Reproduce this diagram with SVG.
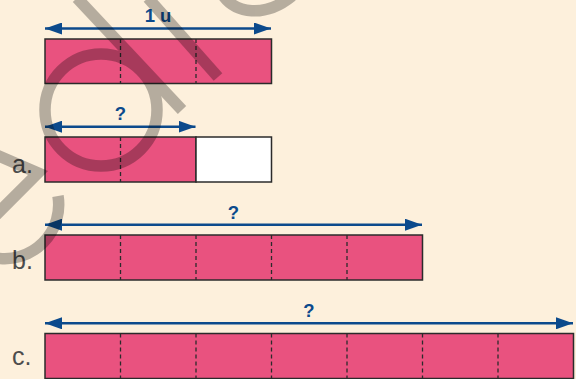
<svg xmlns="http://www.w3.org/2000/svg" width="576" height="379" viewBox="0 0 576 379">
<defs>
<marker id="ah" viewBox="0 0 17 12" refX="17" refY="6" markerWidth="17" markerHeight="12" markerUnits="userSpaceOnUse" orient="auto-start-reverse">
<path d="M0,0 L17,6 L0,12 z" fill="#0c4a8c"/>
</marker>
<style>
.bar{fill:#e9527f;stroke:#2b2b2b;stroke-width:1.5}
.white{fill:#ffffff;stroke:#2b2b2b;stroke-width:1.5}
.div{stroke:#2b2b2b;stroke-width:1.3;stroke-dasharray:4 3;fill:none}
.arr{stroke:#0c4a8c;stroke-width:2.4;fill:none;marker-start:url(#ah);marker-end:url(#ah)}
.q{font-family:"Liberation Sans",Arial,sans-serif;font-weight:bold;font-size:18.5px;fill:#0c4a8c;text-anchor:middle}
.lab{font-family:"Liberation Sans",Arial,sans-serif;font-size:25px;fill:#4d4d4d}
.wm{fill:none;stroke:#000;stroke-width:11.5}
</style>
</defs>
<rect width="576" height="379" fill="#fdf0dc"/>

<g id="bar-unit">
<rect class="bar" x="45" y="39" width="226.5" height="44.5"/>
<line class="div" x1="120.5" y1="39" x2="120.5" y2="83.5"/>
<line class="div" x1="196" y1="39" x2="196" y2="83.5"/>
<text class="q" x="158" y="22">1 u</text>
</g>

<g id="bar-a">
<rect class="bar" x="45" y="137" width="151" height="45"/>
<rect class="white" x="196" y="137" width="75.5" height="45"/>
<line class="div" x1="120.5" y1="137" x2="120.5" y2="182"/>
<text class="q" x="120.5" y="119.5">?</text>
<text class="lab" x="12" y="172.5">a.</text>
</g>

<g id="bar-b">
<rect class="bar" x="45" y="235" width="377.5" height="45"/>
<line class="div" x1="120.5" y1="235" x2="120.5" y2="280"/>
<line class="div" x1="196" y1="235" x2="196" y2="280"/>
<line class="div" x1="271.5" y1="235" x2="271.5" y2="280"/>
<line class="div" x1="347" y1="235" x2="347" y2="280"/>
<text class="q" x="233.5" y="218.5">?</text>
<text class="lab" x="12" y="269">b.</text>
</g>

<g id="bar-c">
<rect class="bar" x="45" y="333.5" width="528.5" height="45"/>
<line class="div" x1="120.5" y1="333.5" x2="120.5" y2="378.5"/>
<line class="div" x1="196" y1="333.5" x2="196" y2="378.5"/>
<line class="div" x1="271.5" y1="333.5" x2="271.5" y2="378.5"/>
<line class="div" x1="347" y1="333.5" x2="347" y2="378.5"/>
<line class="div" x1="422.5" y1="333.5" x2="422.5" y2="378.5"/>
<line class="div" x1="498" y1="333.5" x2="498" y2="378.5"/>
<text class="q" x="309" y="317">?</text>
<text class="lab" x="12" y="365">c.</text>
</g>

<g id="connectors">
<line class="arr" x1="45" y1="28.5" x2="271" y2="28.5"/>
<line class="arr" x1="45" y1="126.7" x2="195.5" y2="126.7"/>
<line class="arr" x1="45" y1="224.7" x2="422" y2="224.7"/>
<line class="arr" x1="45" y1="323.3" x2="573" y2="323.3"/>
</g>

<g id="watermark" opacity="0.28">
<circle class="wm" cx="101" cy="110" r="56"/>
<line class="wm" x1="77" y1="-2" x2="182" y2="110"/>
<line class="wm" x1="148" y1="-2" x2="218" y2="77"/>
<path class="wm" d="M222,-6 C235,14 265,18 292,-4"/>
<path class="wm" d="M-6,154 L38,173 L-6,217"/>
<path class="wm" d="M58,196 A54 54 0 0 1 -4,258"/>
</g>
</svg>
